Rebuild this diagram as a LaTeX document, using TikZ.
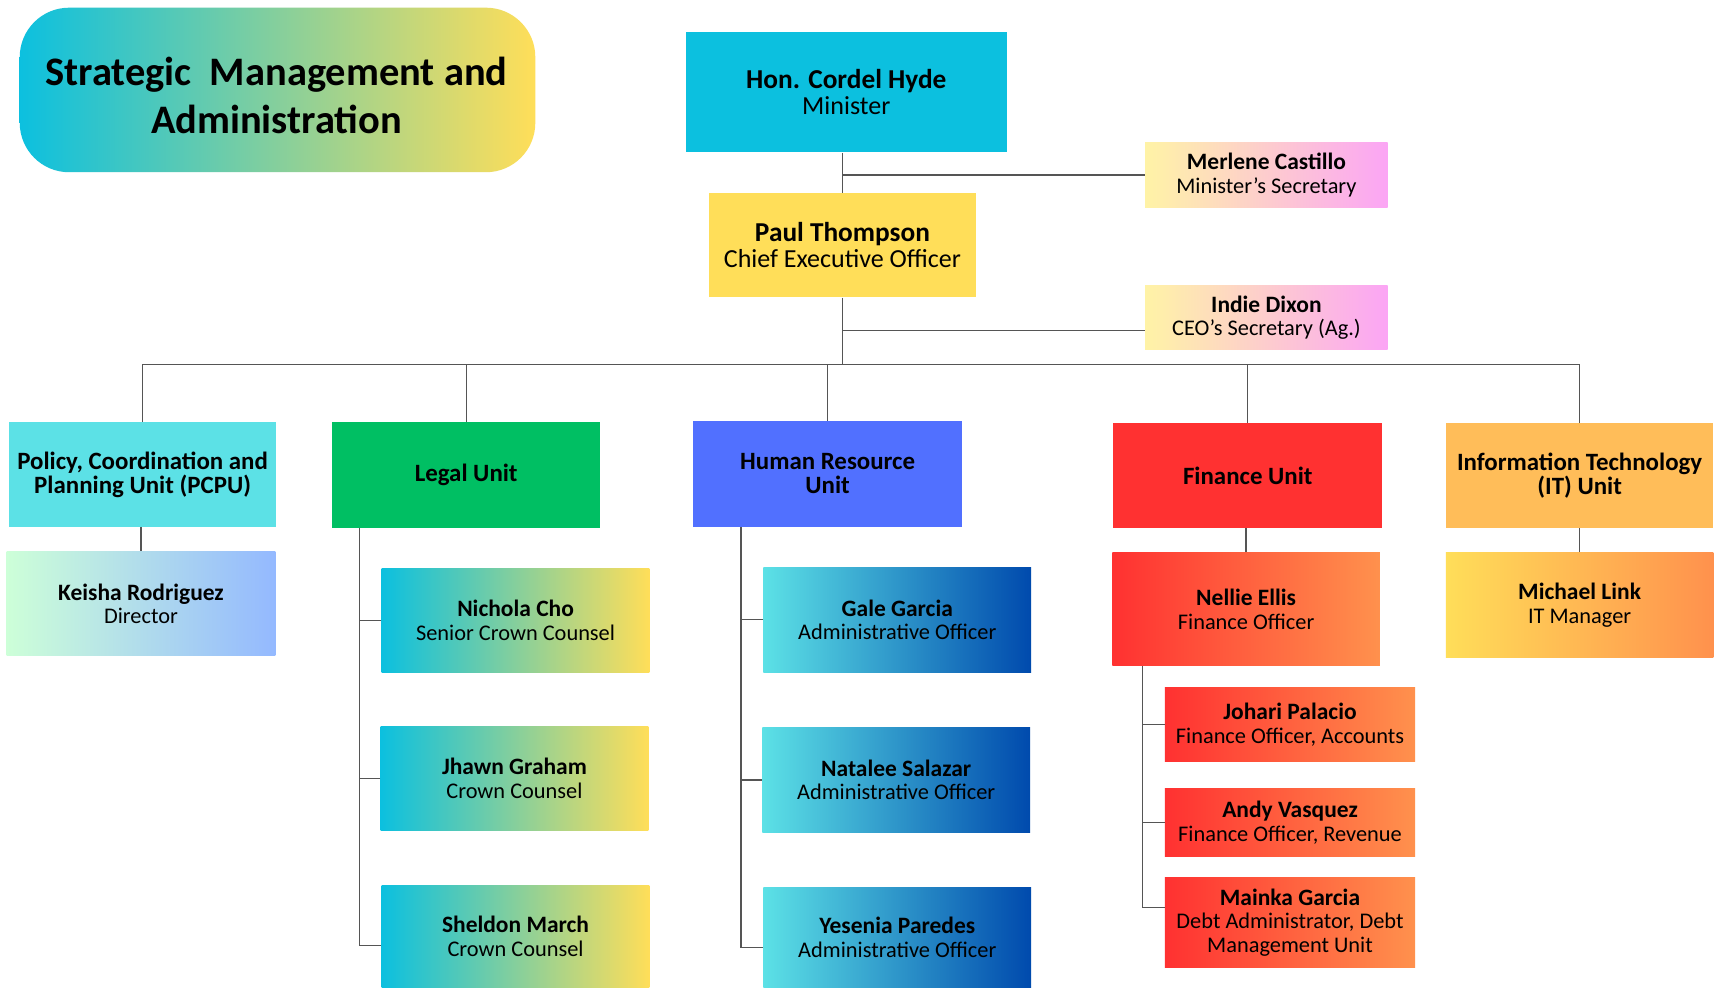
\documentclass[tikz,border=0pt]{standalone}
\usepackage{fontspec}
\setmainfont{Carlito}[BoldFeatures={Scale=1.05}]
\definecolor{linegray}{HTML}{555555}
\definecolor{mincyan}{HTML}{0CC0DF}
\definecolor{ceoyellow}{HTML}{FFDE59}
\definecolor{pcpucyan}{HTML}{5CE1E6}
\definecolor{legalgreen}{HTML}{00BF63}
\definecolor{hrblue}{HTML}{5170FF}
\definecolor{finred}{HTML}{FF3131}
\definecolor{itorange}{HTML}{FFBD59}
\definecolor{finorange}{HTML}{FF914D}
\definecolor{mint}{HTML}{CDFFD8}
\definecolor{paleblue}{HTML}{94B9FF}
\definecolor{darkblue}{HTML}{004AAD}
\definecolor{paleyellow}{HTML}{FFF3A6}
\definecolor{pink}{HTML}{FBA5F5}

\begin{document}
\begin{tikzpicture}[x=0.2mm, y=-0.2mm,
		box/.style = {align=center, inner sep=1pt, text=black},
		sz/.style 2 args = {minimum width=#1*0.2mm, minimum height=#2*0.2mm},
		bigtxt/.style = {font=\fontsize{13.5}{13.7}\selectfont},
		unittxt/.style = {font=\fontsize{12.3}{12.5}\selectfont\bfseries},
		smalltxt/.style = {font=\fontsize{11.6}{12.3}\selectfont},
		link/.style = {draw=linegray, line width=0.7pt},
		]
	\fill[white] (0,0) rectangle (1568,900);

	\path[rounded corners=9mm, left color=mincyan, right color=ceoyellow] (18,7) rectangle (488,157);
	\node[box, font=\fontsize{20}{25}\selectfont\bfseries] (title) at (252,87) {Strategic~ Management and\\Administration};

	% top
	\node[box, bigtxt, sz={293}{110}, fill=mincyan] (minister) at (771.5,84) {\textbf{Hon. Cordel Hyde}\\Minister};
	\node[box, bigtxt, sz={244}{95}, fill=ceoyellow] (ceo) at (768,223.5) {\textbf{Paul Thompson}\\Chief Executive Officer};
	\node[box, smalltxt, sz={221}{59}, left color=paleyellow, right color=pink] (msec) at (1154.5,159.5) {\textbf{Merlene Castillo}\\Minister’s Secretary};
	\node[box, smalltxt, sz={221}{59}, left color=paleyellow, right color=pink] (csec) at (1154.5,289.5) {\textbf{Indie Dixon}\\CEO’s Secretary (Ag.)};

	% units
	\node[box, unittxt, sz={244}{95}, fill=pcpucyan] (pcpu) at (130,432.5) {Policy, Coordination and\\Planning Unit (PCPU)};
	\node[box, unittxt, sz={244}{96}, fill=legalgreen] (legal) at (425,433) {Legal Unit};
	\node[box, unittxt, sz={245}{96}, fill=hrblue] (hr) at (754.5,432) {Human Resource\\Unit};
	\node[box, unittxt, sz={245}{95}, fill=finred] (fin) at (1137.5,433.5) {Finance Unit};
	\node[box, unittxt, sz={244}{95}, fill=itorange] (it) at (1440,433.5) {Information Technology\\(IT) Unit};

	% staff
	\node[box, smalltxt, sz={245}{95}, left color=mint, right color=paleblue] (keisha) at (128.5,550.5) {\textbf{Keisha Rodriguez}\\Director};
	\node[box, smalltxt, sz={244}{95}, left color=mincyan, right color=ceoyellow] (nichola) at (470,565.5) {\textbf{Nichola Cho}\\Senior Crown Counsel};
	\node[box, smalltxt, sz={244}{95}, left color=mincyan, right color=ceoyellow] (jhawn) at (469,709.5) {\textbf{Jhawn Graham}\\Crown Counsel};
	\node[box, smalltxt, sz={244}{93}, left color=mincyan, right color=ceoyellow] (sheldon) at (470,853.5) {\textbf{Sheldon March}\\Crown Counsel};
	\node[box, smalltxt, sz={244}{96}, left color=pcpucyan, right color=darkblue] (gale) at (818,565) {\textbf{Gale Garcia}\\Administrative Officer};
	\node[box, smalltxt, sz={244}{96}, left color=pcpucyan, right color=darkblue] (natalee) at (817,711) {\textbf{Natalee Salazar}\\Administrative Officer};
	\node[box, smalltxt, sz={244}{91}, left color=pcpucyan, right color=darkblue] (yesenia) at (818,854.5) {\textbf{Yesenia Paredes}\\Administrative Officer};
	\node[box, smalltxt, sz={244}{103}, left color=finred, right color=finorange] (nellie) at (1136,555.5) {\textbf{Nellie Ellis}\\Finance Officer};
	\node[box, smalltxt, sz={244}{95}, left color=ceoyellow, right color=finorange] (michael) at (1440,551.5) {\textbf{Michael Link}\\IT Manager};
	\node[box, smalltxt, sz={228}{67}, left color=finred, right color=finorange] (johari) at (1176,660.5) {\textbf{Johari Palacio}\\Finance Officer, Accounts};
	\node[box, smalltxt, sz={228}{62}, left color=finred, right color=finorange] (andy) at (1176,750) {\textbf{Andy Vasquez}\\Finance Officer, Revenue};
	\node[box, smalltxt, sz={228}{82}, left color=finred, right color=finorange] (mainka) at (1176,841) {\textbf{Mainka Garcia}\\Debt Administrator, Debt\\Management Unit};

	% lines
	\coordinate (bus) at (767,332);
	\draw[link] (minister.south -| ceo.north) -- (ceo.north);
	\draw[link] (msec.west) -- (msec.west -| ceo.north);
	\draw[link] (ceo.south) -- (ceo.south |- bus);
	\draw[link] ([yshift=-2.3mm]csec.west) -- ([yshift=-2.3mm]csec.west -| ceo.south);
	\draw[link] (pcpu.north |- bus) -- (it.north |- bus);
	\draw[link] (pcpu.north) -- (pcpu.north |- bus);
	\draw[link] (legal.north) -- (legal.north |- bus);
	\draw[link] (hr.north) -- (hr.north |- bus);
	\draw[link] (fin.north) -- (fin.north |- bus);
	\draw[link] (it.north) -- (it.north |- bus);
	\draw[link] (pcpu.south -| keisha.north) -- (keisha.north);
	\draw[link] (fin.south -| nellie.north) -- (nellie.north);
	\draw[link] (it.south) -- (michael.north);

	\coordinate (lspine) at ([xshift=5mm]legal.south west);
	\draw[link] (lspine) |- ([yshift=-1.7mm]sheldon.west);
	\draw[link] (nichola.west) -- (nichola.west -| lspine);
	\draw[link] (jhawn.west) -- (jhawn.west -| lspine);

	\coordinate (hspine) at ([xshift=8.8mm]hr.south west);
	\draw[link] (hspine) |- ([yshift=-1.9mm]yesenia.west);
	\draw[link] (gale.west) -- (gale.west -| hspine);
	\draw[link] (natalee.west) -- (natalee.west -| hspine);

	\coordinate (fspine) at ([xshift=5.6mm]nellie.south west);
	\draw[link] (fspine) |- ([yshift=2.8mm]mainka.west);
	\draw[link] (johari.west) -- (johari.west -| fspine);
	\draw[link] (andy.west) -- (andy.west -| fspine);
\end{tikzpicture}
\end{document}
